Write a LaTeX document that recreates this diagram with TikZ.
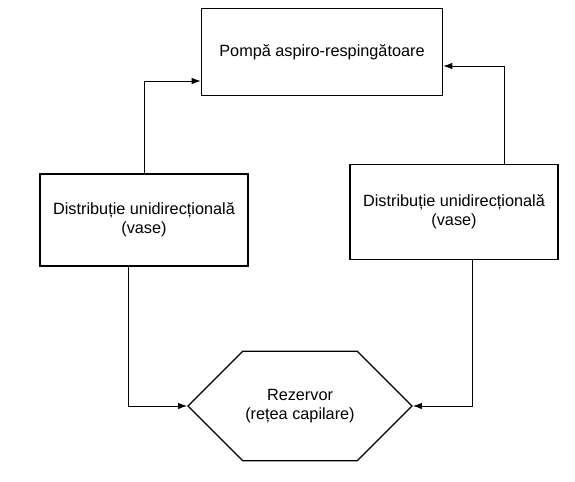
\documentclass[tikz,border=0pt]{standalone}
\usepackage{fontspec}
\setmainfont{Liberation Sans}
\usetikzlibrary{arrows.meta,positioning,shapes.symbols}

\begin{document}
\begin{tikzpicture}[
    x=0.75pt, y=-0.75pt,
    blok/.style={draw, line width=0.9pt, font=\fontsize{12.2}{14}\selectfont, align=center, inner sep=2pt},
    hexa/.style={blok, shape=signal, signal to=east and west, signal from=nowhere},
    arr/.style={-{Latex[length=2.4mm,width=1.7mm]}, line width=0.6pt},
  ]
  \useasboundingbox (0,0) rectangle (575,482);

  % Pump
  \node[blok, minimum width=181pt, minimum height=65pt] (pump) at (322,52) {Pompă aspiro-respingătoare};

  % Distribution branches
  \node[blok, minimum width=156pt, minimum height=69pt] (distL) at (144,220) {Distribuție unidirecțională\\(vase)};
  \node[blok, minimum width=156pt, minimum height=71pt] (distR) at (454,212) {Distribuție unidirecțională\\(vase)};

  % Reservoir
  \node[hexa, minimum width=162pt, minimum height=82pt] (rez) at (300,406) {Rezervor\\(rețea capilare)};

  % Edges
  \draw[arr] (distL.north) |- ([yshift=-21.75pt]pump.west);
  \draw[arr] ([xshift=37.5pt]distR.north) |- ([yshift=-10.5pt]pump.east);
  \draw[arr] ([xshift=-12pt]distL.south) |- (rez.west);
  \draw[arr] ([xshift=14pt]distR.south) |- (rez.east);
\end{tikzpicture}
\end{document}
